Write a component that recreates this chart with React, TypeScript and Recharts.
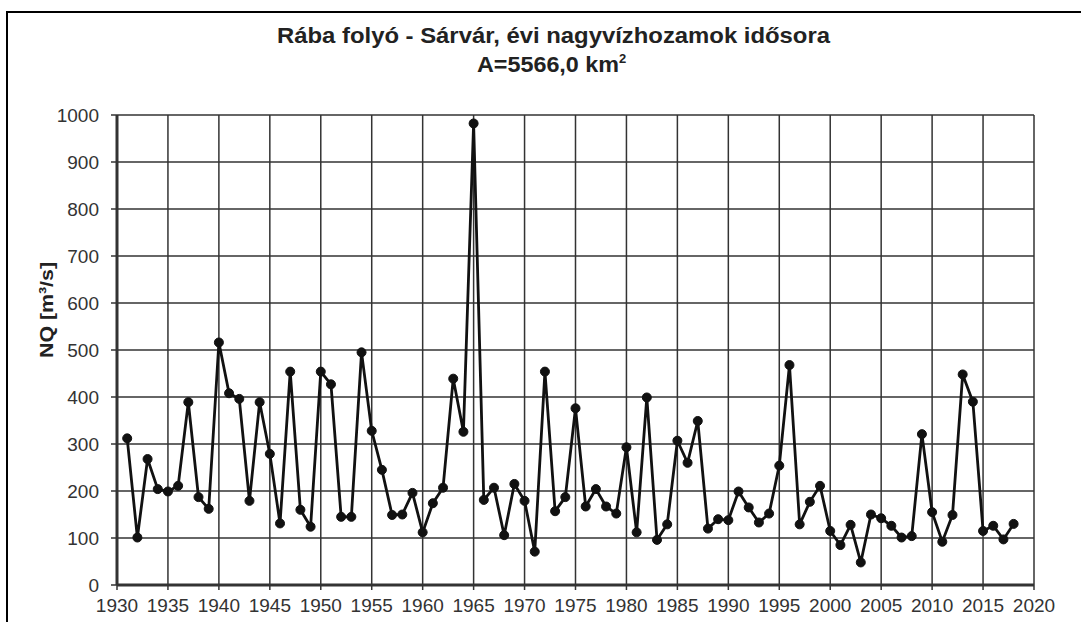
import React from "react";
import { LineChart, Line, XAxis, YAxis, CartesianGrid } from "recharts";

const years = [
  1931, 1932, 1933, 1934, 1935, 1936, 1937, 1938, 1939, 1940,
  1941, 1942, 1943, 1944, 1945, 1946, 1947, 1948, 1949, 1950,
  1951, 1952, 1953, 1954, 1955, 1956, 1957, 1958, 1959, 1960,
  1961, 1962, 1963, 1964, 1965, 1966, 1967, 1968, 1969, 1970,
  1971, 1972, 1973, 1974, 1975, 1976, 1977, 1978, 1979, 1980,
  1981, 1982, 1983, 1984, 1985, 1986, 1987, 1988, 1989, 1990,
  1991, 1992, 1993, 1994, 1995, 1996, 1997, 1998, 1999, 2000,
  2001, 2002, 2003, 2004, 2005, 2006, 2007, 2008, 2009, 2010,
  2011, 2012, 2013, 2014, 2015, 2016, 2017, 2018,
];

const nqValues = [
  312, 101, 268, 204, 199, 211, 389, 187, 162, 516,
  408, 396, 179, 389, 279, 131, 454, 160, 124, 454,
  427, 145, 145, 495, 328, 245, 149, 150, 196, 112,
  174, 207, 439, 326, 982, 181, 207, 106, 215, 179,
  71, 454, 157, 187, 376, 167, 204, 167, 152, 293,
  112, 399, 96, 129, 307, 260, 349, 120, 140, 138,
  199, 165, 133, 152, 254, 468, 129, 177, 211, 115,
  85, 128, 48, 150, 142, 126, 101, 104, 321, 155,
  92, 149, 448, 390, 115, 126, 97, 130,
];

const xTicks = [1930, 1935, 1940, 1945, 1950, 1955, 1960, 1965, 1970, 1975, 1980, 1985, 1990, 1995, 2000, 2005, 2010, 2015, 2020];
const yTicks = [0, 100, 200, 300, 400, 500, 600, 700, 800, 900, 1000];

const titleLine1 = "Rába folyó - Sárvár, évi nagyvízhozamok idősora";
const titleLine2 = "A=5566,0 km";
const yLabel = "NQ [m³/s]";

const data = years.map((y, i) => ({ year: y, nq: nqValues[i] }));

const FONT = "'Liberation Sans', Arial, sans-serif";
const tickStyle = { fill: "#333", fontSize: 19, fontFamily: FONT };

export default function App() {
  return (
    <div style={{ position: "absolute", left: 0, top: 0, width: 1081, height: 622, background: "#fff", overflow: "hidden" }}>
      <div
        style={{
          position: "absolute",
          left: 6,
          top: 11,
          width: 1075,
          height: 611,
          borderLeft: "2px solid #000",
          borderTop: "2px solid #000",
          boxSizing: "border-box",
        }}
      />
      <div style={{ position: "absolute", left: 0, top: 0 }}>
        <LineChart width={1081} height={622} data={data} margin={{ top: 115, right: 47, bottom: 7, left: 57 }}>
          <CartesianGrid stroke="#333" strokeWidth={1.5} />
          <XAxis
            dataKey="year"
            type="number"
            domain={[1930, 2020]}
            ticks={xTicks}
            interval={0}
            height={30}
            tick={tickStyle}
            tickSize={5}
            tickMargin={9}
            axisLine={{ stroke: "#333", strokeWidth: 3 }}
            tickLine={{ stroke: "#333", strokeWidth: 1.5 }}
          />
          <YAxis
            type="number"
            domain={[0, 1000]}
            ticks={yTicks}
            interval={0}
            width={60}
            tick={tickStyle}
            tickSize={6}
            tickMargin={12}
            axisLine={{ stroke: "#333", strokeWidth: 3 }}
            tickLine={{ stroke: "#333", strokeWidth: 1.5 }}
          />
          <Line
            type="linear"
            dataKey="nq"
            stroke="#111"
            strokeWidth={2.8}
            dot={{ r: 4.5, fill: "#111", stroke: "#111", strokeWidth: 1 }}
            isAnimationActive={false}
          />
        </LineChart>
      </div>
      <svg width={1081} height={622} style={{ position: "absolute", left: 0, top: 0, pointerEvents: "none" }}>
        <text
          x={277}
          y={43}
          textLength={553}
          lengthAdjust="spacingAndGlyphs"
          fontFamily={FONT}
          fontWeight="bold"
          fontSize={21.5}
          fill="#222"
        >
          {titleLine1}
        </text>
        <text x={477} y={72} fontFamily={FONT} fontWeight="bold" fontSize={21.5} fill="#222">
          <tspan textLength={142} lengthAdjust="spacingAndGlyphs">{titleLine2}</tspan>
          <tspan fontSize={13} dy={-9}>2</tspan>
        </text>
        <text
          x={46}
          y={310}
          textAnchor="middle"
          dominantBaseline="central"
          transform="rotate(-90 46 310)"
          textLength={96}
          lengthAdjust="spacingAndGlyphs"
          fontFamily={FONT}
          fontWeight="bold"
          fontSize={19}
          fill="#222"
        >
          {yLabel}
        </text>
      </svg>
    </div>
  );
}
